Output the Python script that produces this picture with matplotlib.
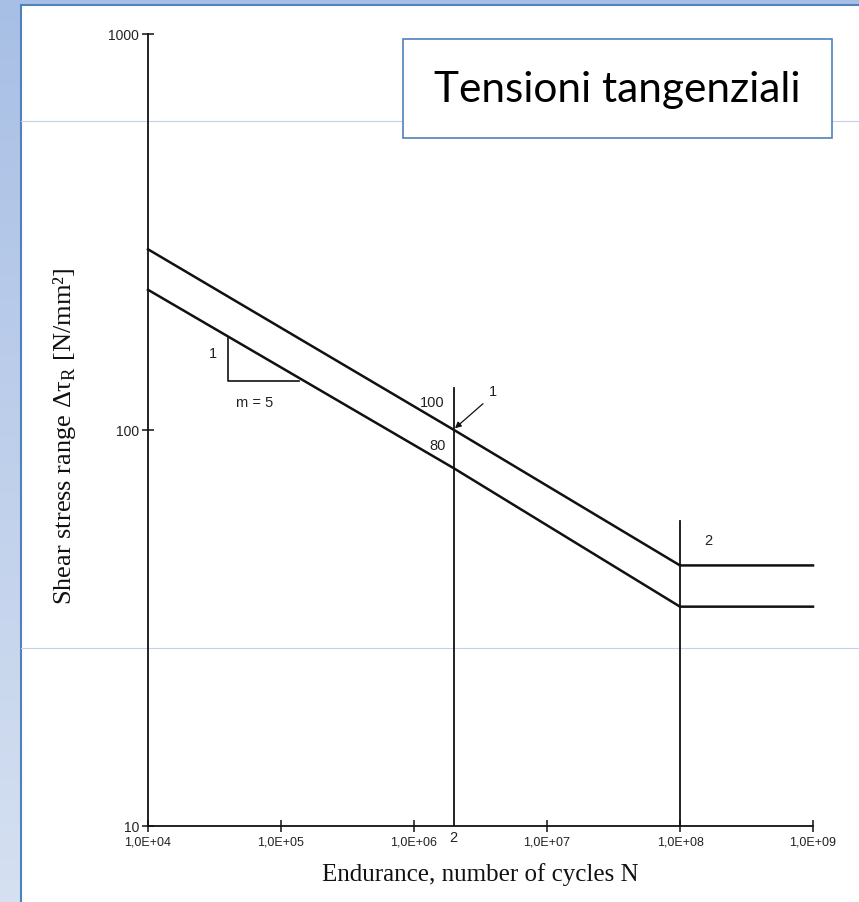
import matplotlib
matplotlib.use("Agg")
import matplotlib.pyplot as plt
import numpy as np
from matplotlib.patches import Rectangle
from matplotlib.lines import Line2D
from matplotlib.ticker import FixedLocator, FuncFormatter, NullLocator

# S-N curve for shear stress
cycles = [1e4, 2e6, 1e8, 1e9]
upper_curve = [286, 100, 45.5, 45.5]   # detail category 100
lower_curve = [226, 80, 35.8, 35.8]    # detail category 80
category_labels = ["100", "80"]

# slope triangle (m = 5)
tri_cycles = [4.0e4, 4.0e4, 1.36e5]
tri_stress = [171, 133, 133]

# vertical reference lines: (cycles, top stress)
ref_lines = [(2e6, 128), (1e8, 59)]

x_ticks = [1e4, 1e5, 1e6, 1e7, 1e8, 1e9]
y_ticks = [10, 100, 1000]

W, H = 859, 902
fig = plt.figure(figsize=(W / 100, H / 100), dpi=100)
fig.patch.set_facecolor("white")


def px(x, y):
    return x / W, 1 - y / H


# slide background: blue strip left/top, white panel with blue edge
grad = np.linspace(0, 1, 256).reshape(-1, 1)
bg = fig.add_axes([0, 0, 1, 1], zorder=-10)
bg.imshow(grad, aspect="auto", extent=[0, 1, 0, 1], origin="lower",
          cmap=matplotlib.colors.LinearSegmentedColormap.from_list(
              "bg", ["#d5e0f1", "#a8bfe5"]))
bg.add_patch(Rectangle((21 / W, 0), 1 - 21 / W, 1 - 6 / H,
                       facecolor="white", edgecolor="none"))
bg.add_line(Line2D([21 / W, 21 / W], [0, 1 - 5 / H], color="#4f81bd", lw=1.5))
bg.add_line(Line2D([21 / W, 1], [1 - 5 / H, 1 - 5 / H], color="#4f81bd", lw=1.5))
for yy in (121, 648):
    bg.add_line(Line2D([21 / W, 1], [1 - yy / H, 1 - yy / H],
                       color="#c3d0e6", lw=0.8))
bg.set_xlim(0, 1)
bg.set_ylim(0, 1)
bg.axis("off")

# main chart
x0, y0 = px(148, 826)
x1, y1 = px(813, 34)
ax = fig.add_axes([x0, y0, x1 - x0, y1 - y0])
ax.set_facecolor("none")
ax.set_xscale("log")
ax.set_yscale("log")
ax.set_xlim(1e4, 1e9)
ax.set_ylim(10, 1000)

for s in ("top", "right"):
    ax.spines[s].set_visible(False)
for s in ("left", "bottom"):
    ax.spines[s].set_linewidth(1.3)
    ax.spines[s].set_color("#111111")

ax.xaxis.set_major_locator(FixedLocator(x_ticks))
ax.yaxis.set_major_locator(FixedLocator(y_ticks))
ax.xaxis.set_minor_locator(NullLocator())
ax.yaxis.set_minor_locator(NullLocator())
ax.xaxis.set_major_formatter(FuncFormatter(
    lambda v, p: "1,0E+%02d" % int(round(np.log10(v)))))
ax.yaxis.set_major_formatter(FuncFormatter(lambda v, p: "%d" % v))
ax.tick_params(axis="both", direction="inout", length=9, width=1.1,
               color="#111111", labelcolor="#222222")
ax.tick_params(axis="x", pad=3, labelsize=9)
ax.tick_params(axis="y", pad=2, labelsize=10)
for lab in ax.get_xticklabels() + ax.get_yticklabels():
    lab.set_family("Liberation Sans")

ax.plot(cycles, upper_curve, color="#111111", lw=1.8, clip_on=False)
ax.plot(cycles, lower_curve, color="#111111", lw=1.8, clip_on=False)
ax.plot(tri_cycles, tri_stress, color="#111111", lw=1.2)
for xv, top in ref_lines:
    ax.plot([xv, xv], [10, top], color="#111111", lw=1.3)

small = dict(family="Liberation Sans", fontsize=10.5, color="#222222",
             ha="center", va="center")
ax.text(3.1e4, 156, "1", **small)
ax.text(6.3e4, 117, "m = 5", **small)
ax.text(1.38e6, 117, category_labels[0], **small)
ax.text(1.51e6, 91, category_labels[1], **small)
ax.text(3.95e6, 124.5, "1", **small)
ax.text(1.62e8, 52.3, "2", **small)
ax.text(1.97e6, 9.3, "2", clip_on=False, **small)
ax.annotate("", xy=(2.03e6, 101), xytext=(3.3e6, 116.5),
            arrowprops=dict(arrowstyle="-|>", color="#111111", lw=0.9,
                            mutation_scale=9, shrinkA=0, shrinkB=0))

fig.text(*px(480, 875), "Endurance, number of cycles N", family="Liberation Serif",
         fontsize=18, ha="center", va="center", color="#111111")
plt.rcParams["mathtext.fontset"] = "custom"
plt.rcParams["mathtext.rm"] = "Liberation Serif"
fig.text(*px(65, 436), "Shear stress range Δτ$_{\\mathrm{R}}$ [N/mm²]",
         family="Liberation Serif", fontsize=19, rotation=90,
         ha="center", va="center", color="#111111")

# title box
bx0, by0 = px(403, 138)
bx1, by1 = px(832, 39)
bg.add_patch(Rectangle((bx0, by0), bx1 - bx0, by1 - by0, facecolor="white",
                       edgecolor="#4f81bd", lw=1.2, zorder=5))
fig.text(*px(617, 90), "Tensioni tangenziali", family="Lato", fontsize=30.5,
         ha="center", va="center", color="black")

fig.savefig("out.png", dpi=100)
